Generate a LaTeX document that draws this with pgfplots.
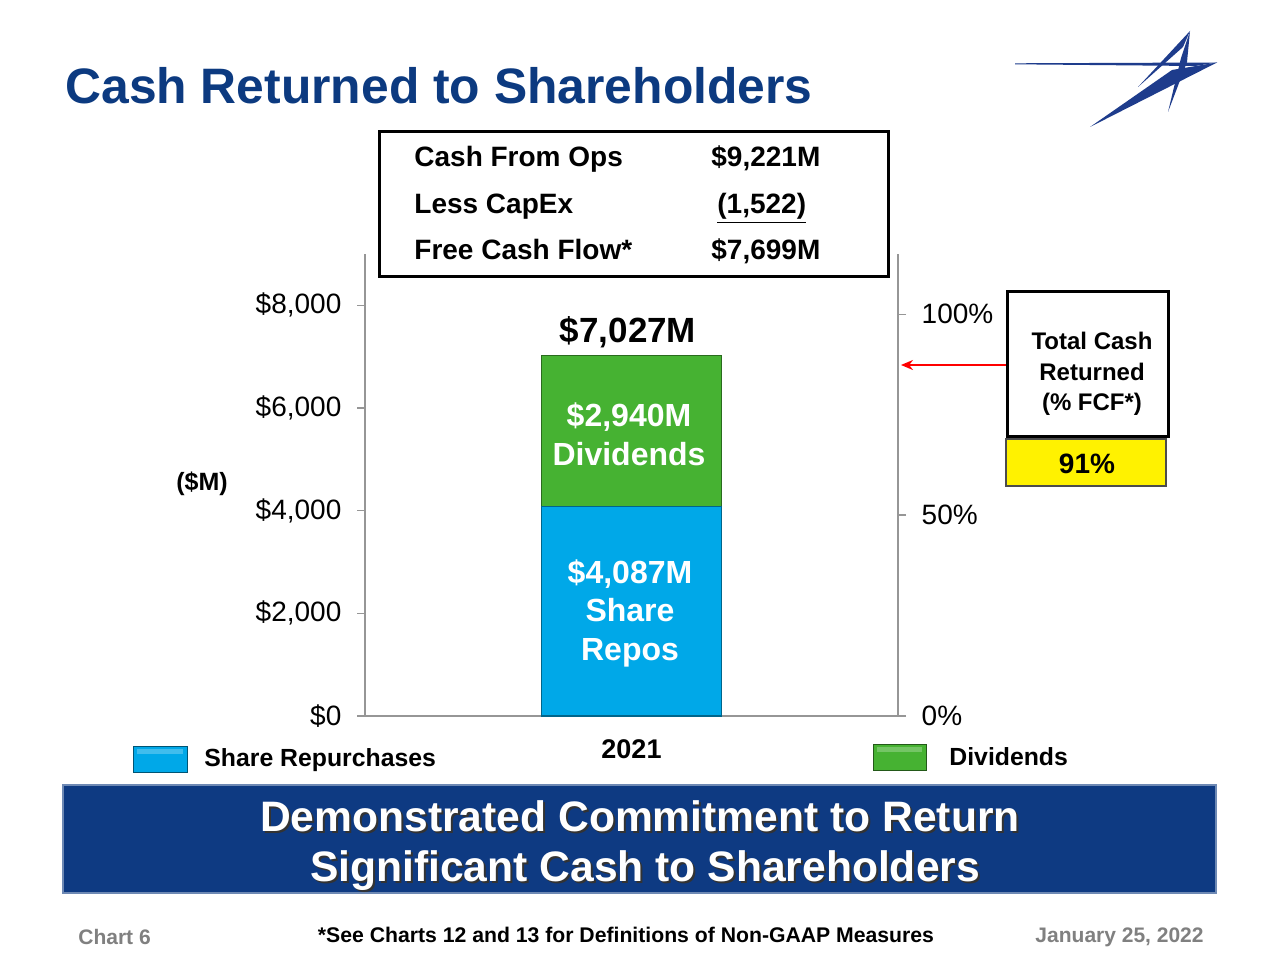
\documentclass[border=0pt]{standalone}
\usepackage{pgfplots}
\pgfplotsset{compat=1.18}
\usepackage{pgfplotstable}
\usepackage{fontspec}
\setmainfont{Liberation Sans}
\usetikzlibrary{arrows.meta}
\definecolor{navy}{RGB}{12,58,128}
\definecolor{barblue}{RGB}{0,168,232}
\definecolor{bargreen}{RGB}{70,178,50}
\definecolor{axgray}{RGB}{150,150,150}
\definecolor{footgray}{RGB}{128,128,128}
\definecolor{banner}{RGB}{14,58,130}
\definecolor{logoblue}{RGB}{30,60,140}

\pgfplotstableread{
x repos div
0.5 4087 2940
}\datatable

\begin{document}
\begin{tikzpicture}
\path[use as bounding box] (0,0) rectangle (640pt,480pt);
\fill[white] (0,0) rectangle (640pt,480pt);

\begin{axis}[
  at={(182.5pt,122pt)}, anchor=south west,
  width=266.5pt, height=231pt, scale only axis,
  xmin=0, xmax=1, ymin=0, ymax=9000,
  axis x line=bottom, axis y line=left,
  axis line style={-, draw=axgray, line width=0.7pt},
  /pgf/number format/assume math mode=true,
  ybar stacked, bar width=90pt,
  xtick={0.5}, xticklabels={2021},
  x tick label style={font=\fontsize{13.5}{15}\selectfont\bfseries, yshift=-4.5pt},
  xtick style={draw=none},
  ytick={0,2000,4000,6000,8000},
  yticklabels={{\$0},{\$2,000},{\$4,000},{\$6,000},{\$8,000}},
  y tick label style={font=\fontsize{14}{16}\selectfont, xshift=-4.3pt},
  tick align=outside, major tick length=4pt,
  ytick style={draw=axgray, line width=0.7pt},
  clip=false,
]
\addplot[fill=barblue, draw=barblue!60!black, line width=0.6pt] table[x=x,y=repos]{\datatable};
\addplot[fill=bargreen, draw=bargreen!60!black, line width=0.6pt] table[x=x,y=div]{\datatable};
\end{axis}

\begin{axis}[
  at={(182.5pt,122pt)}, anchor=south west,
  width=266.5pt, height=231pt, scale only axis,
  xmin=0, xmax=1, ymin=0, ymax=115,
  axis x line=none, axis y line=right,
  axis line style={-, draw=axgray, line width=0.7pt},
  /pgf/number format/assume math mode=true,
  ytick={0,50,100},
  yticklabels={{0\%},{50\%},{100\%}},
  y tick label style={font=\fontsize{14}{16}\selectfont, xshift=4.3pt},
  tick align=outside, major tick length=4pt,
  ytick style={draw=axgray, line width=0.7pt},
]
\end{axis}

\begin{scope}[x=0.5pt, y=-0.5pt, shift={(0,480pt)}]
  % bar labels
  \node[anchor=base, inner sep=0, font=\fontsize{17.5}{20}\selectfont\bfseries] at (628,343) {\$7,027M};
  \begin{scope}[every node/.style={anchor=base, inner sep=0, text=white, font=\fontsize{16}{19.2}\selectfont\bfseries}]
    \node at (629,426.5) {\$2,940M};
    \node at (629,465.5) {Dividends};
    \node at (630,583.5) {\$4,087M};
    \node at (630,621.5) {Share};
    \node at (630,660.5) {Repos};
  \end{scope}
  % title
  \node[anchor=base west, inner sep=0, text=navy, font=\fontsize{24.9}{30}\selectfont\bfseries] at (65,104) {Cash Returned to Shareholders};
  % logo
  \fill[logoblue] (1015,63.3) -- (1217,62.5) -- (1195,66) -- (1015,64.3) -- cycle;
  \fill[logoblue] (1090,127) -- (1217,62.5) -- (1172,70) -- cycle;
  \fill[logoblue] (1190,31) -- (1187,62) -- (1168,112) -- (1181,58) -- cycle;
  \fill[logoblue] (1190,31) -- (1138,87) -- (1183,47) -- cycle;
  % table box
  \draw[line width=1.5pt, fill=white] (379,132) rectangle (888,277);
  \begin{scope}[every node/.style={inner sep=0, font=\fontsize{14}{16}\selectfont\bfseries}]
    \node[anchor=base west] at (414,167) {Cash From Ops};
    \node[anchor=base west] at (414,214) {Less CapEx};
    \node[anchor=base west] at (414,260) {Free Cash Flow*};
    \node[anchor=base west] at (711,167) {\$9,221M};
    \node[anchor=base west] at (717,214) {\underline{(1,522)}};
    \node[anchor=base west] at (711,260) {\$7,699M};
  \end{scope}
  % ($M)
  \node[font=\fontsize{12.5}{14}\selectfont\bfseries] at (202,484) {(\$M)};
  % right box
  \draw[red, line width=1pt, -{Stealth[length=6pt,width=5pt]}] (1007,365) -- (901,365);
  \draw[line width=1.5pt, fill=white] (1007,292) rectangle (1168,437);
  \node[align=center, font=\fontsize{12}{15.25}\selectfont\bfseries] at (1092,374) {Total Cash\\Returned\\(\% FCF*)};
  \draw[fill=yellow, draw=black!70, line width=0.6pt] (1006,439) rectangle (1166,486);
  \node[font=\fontsize{14}{16}\selectfont\bfseries] at (1087,464) {91\%};
  % legend
  \draw[fill=barblue, draw=barblue!50!black, line width=0.5pt] (133,746) rectangle (187,772);
  \fill[white, opacity=0.25] (137,749) rectangle (183,754);
  \node[anchor=west, inner sep=0, font=\fontsize{12.4}{14}\selectfont\bfseries] at (204,760) {Share Repurchases};
  \draw[fill=bargreen, draw=bargreen!50!black, line width=0.5pt] (873,744) rectangle (926,770);
  \fill[white, opacity=0.25] (877,747) rectangle (922,752);
  \node[anchor=west, inner sep=0, font=\fontsize{12.4}{14}\selectfont\bfseries] at (949,757) {Dividends};
  % banner
  \draw[fill=banner, draw=banner!60!white, line width=1pt] (63,785) rectangle (1216,893);
  \begin{scope}[every node/.style={anchor=base, inner sep=0, font=\fontsize{21.3}{24}\selectfont\bfseries}]
    \node[black!80] at (642,833) {Demonstrated Commitment to Return};
    \node[white] at (640,831) {Demonstrated Commitment to Return};
    \node[black!80] at (647,883) {Significant Cash to Shareholders};
    \node[white] at (645,881) {Significant Cash to Shareholders};
  \end{scope}
  % footer
  \node[anchor=west, inner sep=0, text=footgray, font=\fontsize{10.5}{12}\selectfont\bfseries] at (78,937) {Chart 6};
  \node[font=\fontsize{10.6}{12}\selectfont\bfseries] at (626,935) {*See Charts 12 and 13 for Definitions of Non-GAAP Measures};
  \node[anchor=east, inner sep=0, text=footgray, font=\fontsize{10.5}{12}\selectfont\bfseries] at (1204,937) {January 25, 2022};
\end{scope}
\end{tikzpicture}
\end{document}
